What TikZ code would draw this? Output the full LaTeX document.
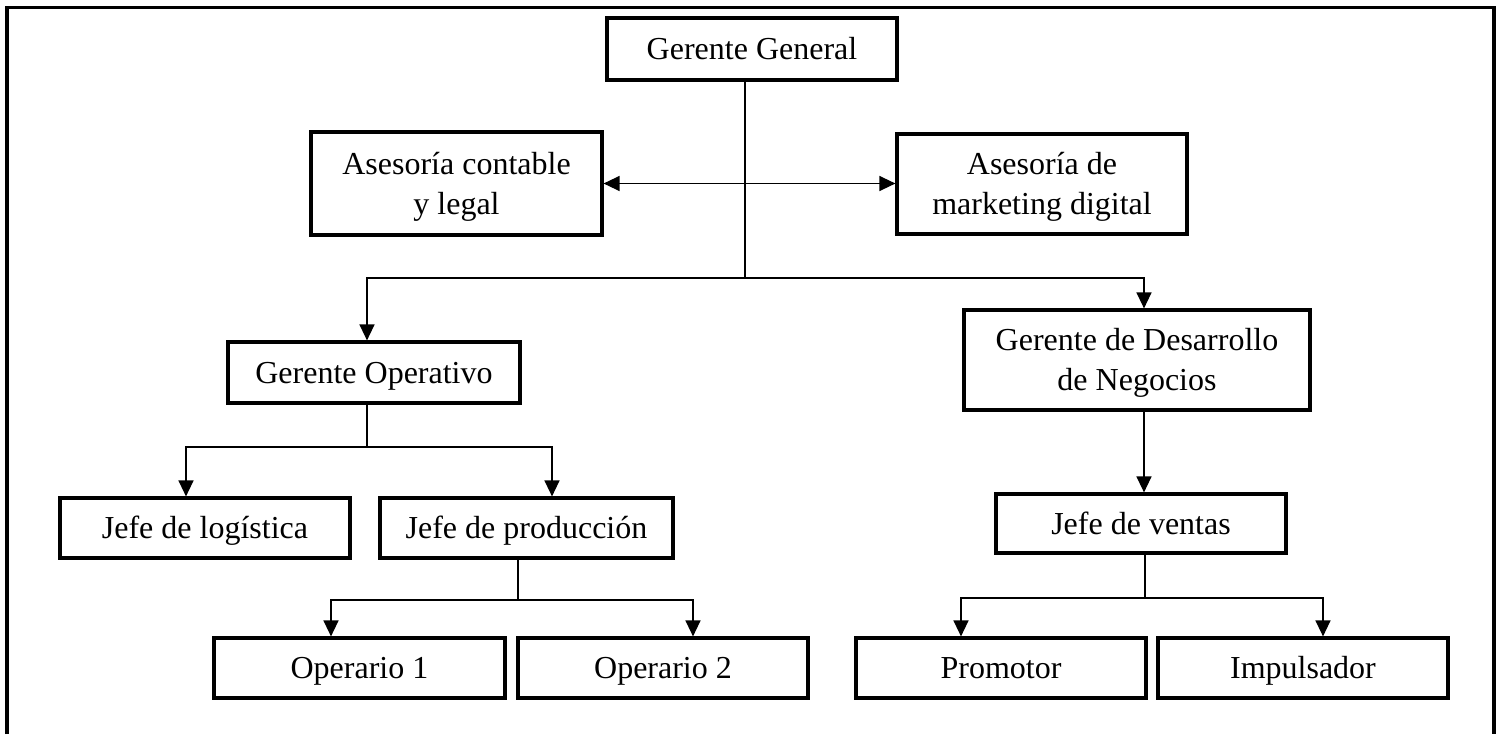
\documentclass[tikz,border=0pt]{standalone}
\usepackage{fontspec}
\setmainfont{Liberation Serif}
\usetikzlibrary{arrows.meta}
\tikzset{
  orgbox/.style={draw, line width=3.2pt, rectangle, inner sep=0pt, text height=21pt, text depth=0pt, align=center},
  linetext/.style={anchor=base, inner sep=0pt},
  conn/.style={line width=1.4pt},
  arr/.style={conn, -{Triangle[length=16pt,width=15pt]}},
  dblarr/.style={conn, {Triangle[length=16pt,width=15pt]}-{Triangle[length=16pt,width=15pt]}},
  frameline/.style={line width=3.8pt}
}
\begin{document}
\begin{tikzpicture}[x=1pt,y=-1pt, font=\fontsize{32}{40}\selectfont]
\useasboundingbox (0,0) rectangle (1502,734);
\draw[frameline] (7,734) -- (7,7.5) -- (1494,7.5) -- (1494,734);

% boxes
\node[orgbox, minimum width=290pt, minimum height=62pt] (gg) at (752,49) {Gerente General};

\node[orgbox, minimum width=291pt, minimum height=103pt] (ac) at (456.5,183.5) {};
\node[linetext] (ac1) at ([yshift=9.5pt]ac.center) {Asesoría contable};
\node[linetext] (ac2) at ([yshift=-30.5pt]ac.center) {y legal};

\node[orgbox, minimum width=290pt, minimum height=100pt] (am) at (1042,184) {};
\node[linetext] (am1) at ([yshift=9.5pt]am.center) {Asesoría de};
\node[linetext] (am2) at ([yshift=-30.5pt]am.center) {marketing digital};

\node[orgbox, minimum width=292pt, minimum height=61pt] (go) at (374,372.5) {Gerente Operativo};

\node[orgbox, minimum width=346pt, minimum height=100pt] (gdn) at (1137,360) {};
\node[linetext] (gdn1) at ([yshift=9.5pt]gdn.center) {Gerente de Desarrollo};
\node[linetext] (gdn2) at ([yshift=-30.5pt]gdn.center) {de Negocios};

\node[orgbox, minimum width=290pt, minimum height=60pt] (jl) at (205,528) {Jefe de logística};
\node[orgbox, minimum width=293pt, minimum height=60pt] (jp) at (526.5,528) {Jefe de producción};
\node[orgbox, minimum width=290pt, minimum height=59pt] (jv) at (1141,523.5) {Jefe de ventas};

\node[orgbox, minimum width=291pt, minimum height=60pt] (op1) at (359.5,668) {Operario 1};
\node[orgbox, minimum width=290pt, minimum height=60pt] (op2) at (663,668) {Operario 2};
\node[orgbox, minimum width=290pt, minimum height=60pt] (pr) at (1001,668) {Promotor};
\node[orgbox, minimum width=290pt, minimum height=60pt] (im) at (1303,668) {Impulsador};

% junction coordinates
\coordinate (g0) at (745,278);
\coordinate (c0) at (367,447);
\coordinate (c1) at (186,447);
\coordinate (c2) at (552,447);
\coordinate (d0) at (518,600);
\coordinate (d1) at (331,600);
\coordinate (d2) at (693,600);
\coordinate (e0) at (1144,278);
\coordinate (f0) at (1145,598);
\coordinate (f1) at (961,598);
\coordinate (f2) at (1323,598);

% connectors
\draw[conn] (gg.south -| g0) -- (g0);
\draw[dblarr] (ac.east) -- (ac.east -| am.west);
\draw[arr] (g0) -| (c0 |- go.north);
\draw[arr] (g0) -| (e0 |- gdn.north);

\draw[conn] (go.south -| c0) -- (c0);
\draw[arr] (c0) -| (c1 |- jl.north);
\draw[arr] (c0) -| (c2 |- jp.north);

\draw[conn] (jp.south -| d0) -- (d0);
\draw[arr] (d0) -| (d1 |- op1.north);
\draw[arr] (d0) -| (d2 |- op2.north);

\draw[arr] (gdn.south -| e0) -- (e0 |- jv.north);

\draw[conn] (jv.south -| f0) -- (f0);
\draw[arr] (f0) -| (f1 |- pr.north);
\draw[arr] (f0) -| (f2 |- im.north);
\end{tikzpicture}
\end{document}
